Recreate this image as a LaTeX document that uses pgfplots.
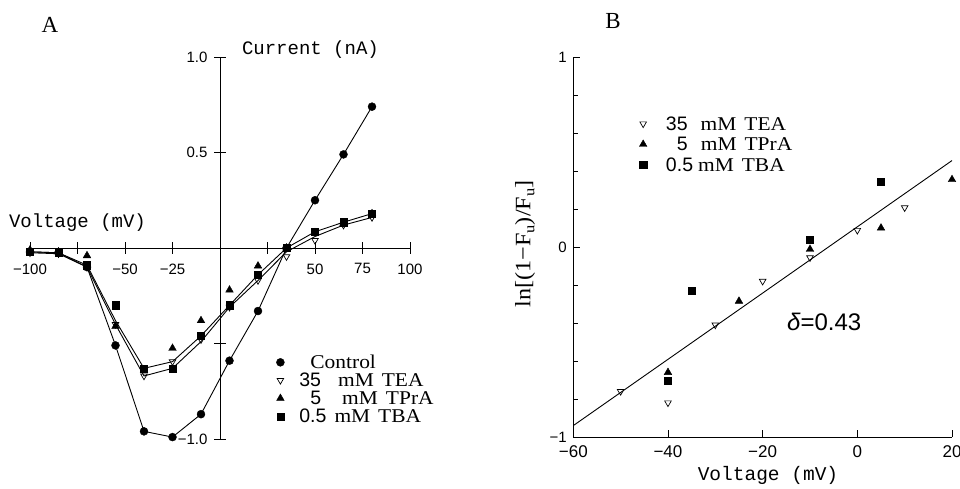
\documentclass[border=0pt]{standalone}
\usepackage{fontspec}
\setmainfont{Liberation Serif}
\newfontfamily\lserifw{Liberation Serif}[FakeStretch=1.1]
\newfontfamily\lsans{Liberation Sans}
\newfontfamily\lmono{Liberation Mono}
\usepackage{pgfplots}
\pgfplotsset{compat=1.18}

\pgfplotstableread{
V     I
-100  -0.02
-85   -0.025
-70   -0.10
-55   -0.51
-40   -0.96
-25   -0.99
-10   -0.87
5     -0.59
20    -0.33
35    0.00
50    0.25
65    0.49
80    0.74
}\control
\pgfplotstableread{
V     I
-100  -0.02
-85   -0.025
-70   -0.09
-55   -0.38
-40   -0.63
-25   -0.595
-10   -0.46
5     -0.30
20    -0.14
35    0.00
50    0.085
65    0.135
80    0.18
}\lineU
\pgfplotstableread{
V     I
-100  -0.025
-85   -0.03
-70   -0.10
-55   -0.40
-40   -0.67
-25   -0.63
-10   -0.49
5     -0.31
20    -0.17
35    -0.02
50    0.06
65    0.12
80    0.16
}\lineL
\pgfplotstableread{
V     I
-100  -0.025
-85   -0.03
-70   -0.10
-55   -0.40
-40   -0.67
-25   -0.595
-10   -0.48
5     -0.31
20    -0.17
35    -0.045
50    0.04
65    0.12
80    0.16
}\teaA
\pgfplotstableread{
V     I
-100  -0.01
-85   -0.02
-70   -0.04
-55   -0.41
-40   -0.64
-25   -0.525
-10   -0.38
5     -0.22
20    -0.094
35    0.00
50    0.08
65    0.13
80    0.18
}\tpraA
\pgfplotstableread{
V     I
-100  -0.02
-85   -0.025
-70   -0.09
-55   -0.30
-40   -0.63
-25   -0.63
-10   -0.46
5     -0.30
20    -0.14
35    0.00
50    0.085
65    0.135
80    0.18
}\tbaA

\pgfplotstableread{
V    L
-50  -0.76
-40  -0.82
-30  -0.41
-20  -0.18
-10  -0.056
0    0.088
10   0.207
}\teaB
\pgfplotstableread{
V    L
-40  -0.66
-25  -0.285
-10  -0.012
5    0.10
20   0.355
}\tpraB
\pgfplotstableread{
V    L
-40  -0.705
-35  -0.232
-10  0.04
5    0.343
}\tbaB

\pgfplotsset{
  mkctl/.style={black, mark=*, mark size=4pt, only marks},
  mktea/.style={black, mark=triangle, mark size=3.8pt, only marks, mark options={rotate=180, fill=white, line width=0.7pt}},
  mktpra/.style={black, mark=triangle*, mark size=4.4pt, only marks},
  mktba/.style={black, mark=square*, mark size=3.6pt, only marks},
}

\begin{document}
\begin{tikzpicture}
\useasboundingbox (0,0) rectangle (960pt,489pt);
\node[font=\fontsize{23}{23}\selectfont] at (50pt,464pt) {A};
\node[font=\fontsize{23}{23}\selectfont] at (613pt,468pt) {B};

% ---------------- Panel A ----------------
\begin{axis}[
  at={(30pt,50pt)}, anchor=south west, scale only axis,
  width=380pt, height=382pt,
  xmin=-100, xmax=100, ymin=-1, ymax=1,
  axis lines=middle, axis line style={-, line width=0.9pt},
  clip=false,
  xtick={-100,-75,...,100},
  xticklabels={−100,,−50,−25,,,50,75,100},
  ytick={-1,-0.5,0.5,1},
  yticklabels={−1.0,,0.5,1.0},
  tick align=center, major tick length=12pt,
  tick style={black, line width=0.9pt},
  xticklabel style={font=\lsans\fontsize{15}{15}\selectfont, yshift=-6pt},
  yticklabel style={font=\lsans\fontsize{15}{15}\selectfont, xshift=-3pt},
  legend style={draw=none, fill=none, at={(0.640,0.230)}, anchor=north west,
    font=\lserifw\fontsize{19.5}{19.5}\selectfont, row sep=0pt,
    nodes={text height=13.5pt, text depth=1pt, inner ysep=1.75pt}},
  legend cell align=left,
]
\addplot[black, line width=0.9pt, forget plot] table[x=V,y=I] {\control};
\addplot[black, line width=0.9pt, forget plot] table[x=V,y=I] {\lineU};
\addplot[black, line width=0.9pt, forget plot] table[x=V,y=I] {\lineL};
\addplot[mkctl] table[x=V,y=I] {\control};
\addlegendentry{\hspace{24pt}Control}
\addplot[mktea] table[x=V,y=I] {\teaA};
\addlegendentry{\hspace{13pt}{\lsans 35}\hspace{17pt}mM\hspace{8pt}TEA}
\addplot[mktpra] table[x=V,y=I] {\tpraA};
\addlegendentry{\hspace{24pt}{\lsans 5}\hspace{21pt}mM\hspace{8pt}TPrA}
\addplot[mktba] table[x=V,y=I] {\tbaA};
\addlegendentry{\hspace{13pt}{\lsans 0.5}\hspace{8pt}mM\hspace{8pt}TBA}
\node[font=\lmono\fontsize{19}{19}\selectfont] at (axis cs:-75,0.131) {Voltage (mV)};
\node[font=\lmono\fontsize{19}{19}\selectfont] at (axis cs:47.6,1.037) {Current (nA)};
\end{axis}

% ---------------- Panel B ----------------
\begin{axis}[
  at={(573.3pt,52pt)}, anchor=south west, scale only axis,
  width=378.7pt, height=380pt,
  xmin=-60, xmax=20, ymin=-1, ymax=1,
  axis x line=bottom, axis y line=left, axis line style={-, line width=0.9pt},
  clip=false,
  xtick={-60,-40,...,20},
  xticklabels={−60,−40,−20,0,20},
  ytick={-1,0,1},
  yticklabels={−1,0,1},
  minor ytick={-0.8,-0.6,-0.4,-0.2,0.2,0.4,0.6,0.8},
  tick align=inside, major tick length=7pt, minor tick length=5pt,
  tick style={black, line width=0.9pt},
  xticklabel style={font=\lsans\fontsize{17}{17}\selectfont, yshift=-5pt},
  yticklabel style={font=\lsans\fontsize{15}{15}\selectfont, xshift=-3pt},
  xlabel={\lmono\fontsize{19.5}{19.5}\selectfont Voltage (mV)},
  xlabel style={at={(axis description cs:0.514,-0.1)}, anchor=center},
  ylabel={\lserifw\fontsize{22}{22}\selectfont ln[(1−F\raisebox{-4pt}{\fontsize{15}{15}\selectfont u})/F\raisebox{-4pt}{\fontsize{15}{15}\selectfont u}]},
  ylabel style={at={(axis description cs:-0.1275,0.508)}, anchor=center},
  legend style={draw=none, fill=none, at={(0.166,0.857)}, anchor=north west,
    font=\lserifw\fontsize{19.5}{19.5}\selectfont, row sep=0pt,
    nodes={text height=13.5pt, text depth=1pt, inner ysep=3pt}},
  legend cell align=left,
]
\addplot[black, line width=0.9pt, forget plot] coordinates {(-60,-0.94) (20,0.455)};
\addplot[mktea] table[x=V,y=L] {\teaB};
\addlegendentry{\hspace{17pt}{\lsans 35}\hspace{13pt}mM\hspace{8pt}TEA}
\addplot[mktpra] table[x=V,y=L] {\tpraB};
\addlegendentry{\hspace{28pt}{\lsans 5}\hspace{13pt}mM\hspace{8pt}TPrA}
\addplot[mktba] table[x=V,y=L] {\tbaB};
\addlegendentry{\hspace{17pt}{\lsans 0.5}\hspace{5pt}mM\hspace{8pt}TBA}
\node[font=\lsans\fontsize{24}{24}\selectfont] at (axis cs:-7,-0.393) {\textit{δ}=0.43};
\end{axis}
\end{tikzpicture}
\end{document}
